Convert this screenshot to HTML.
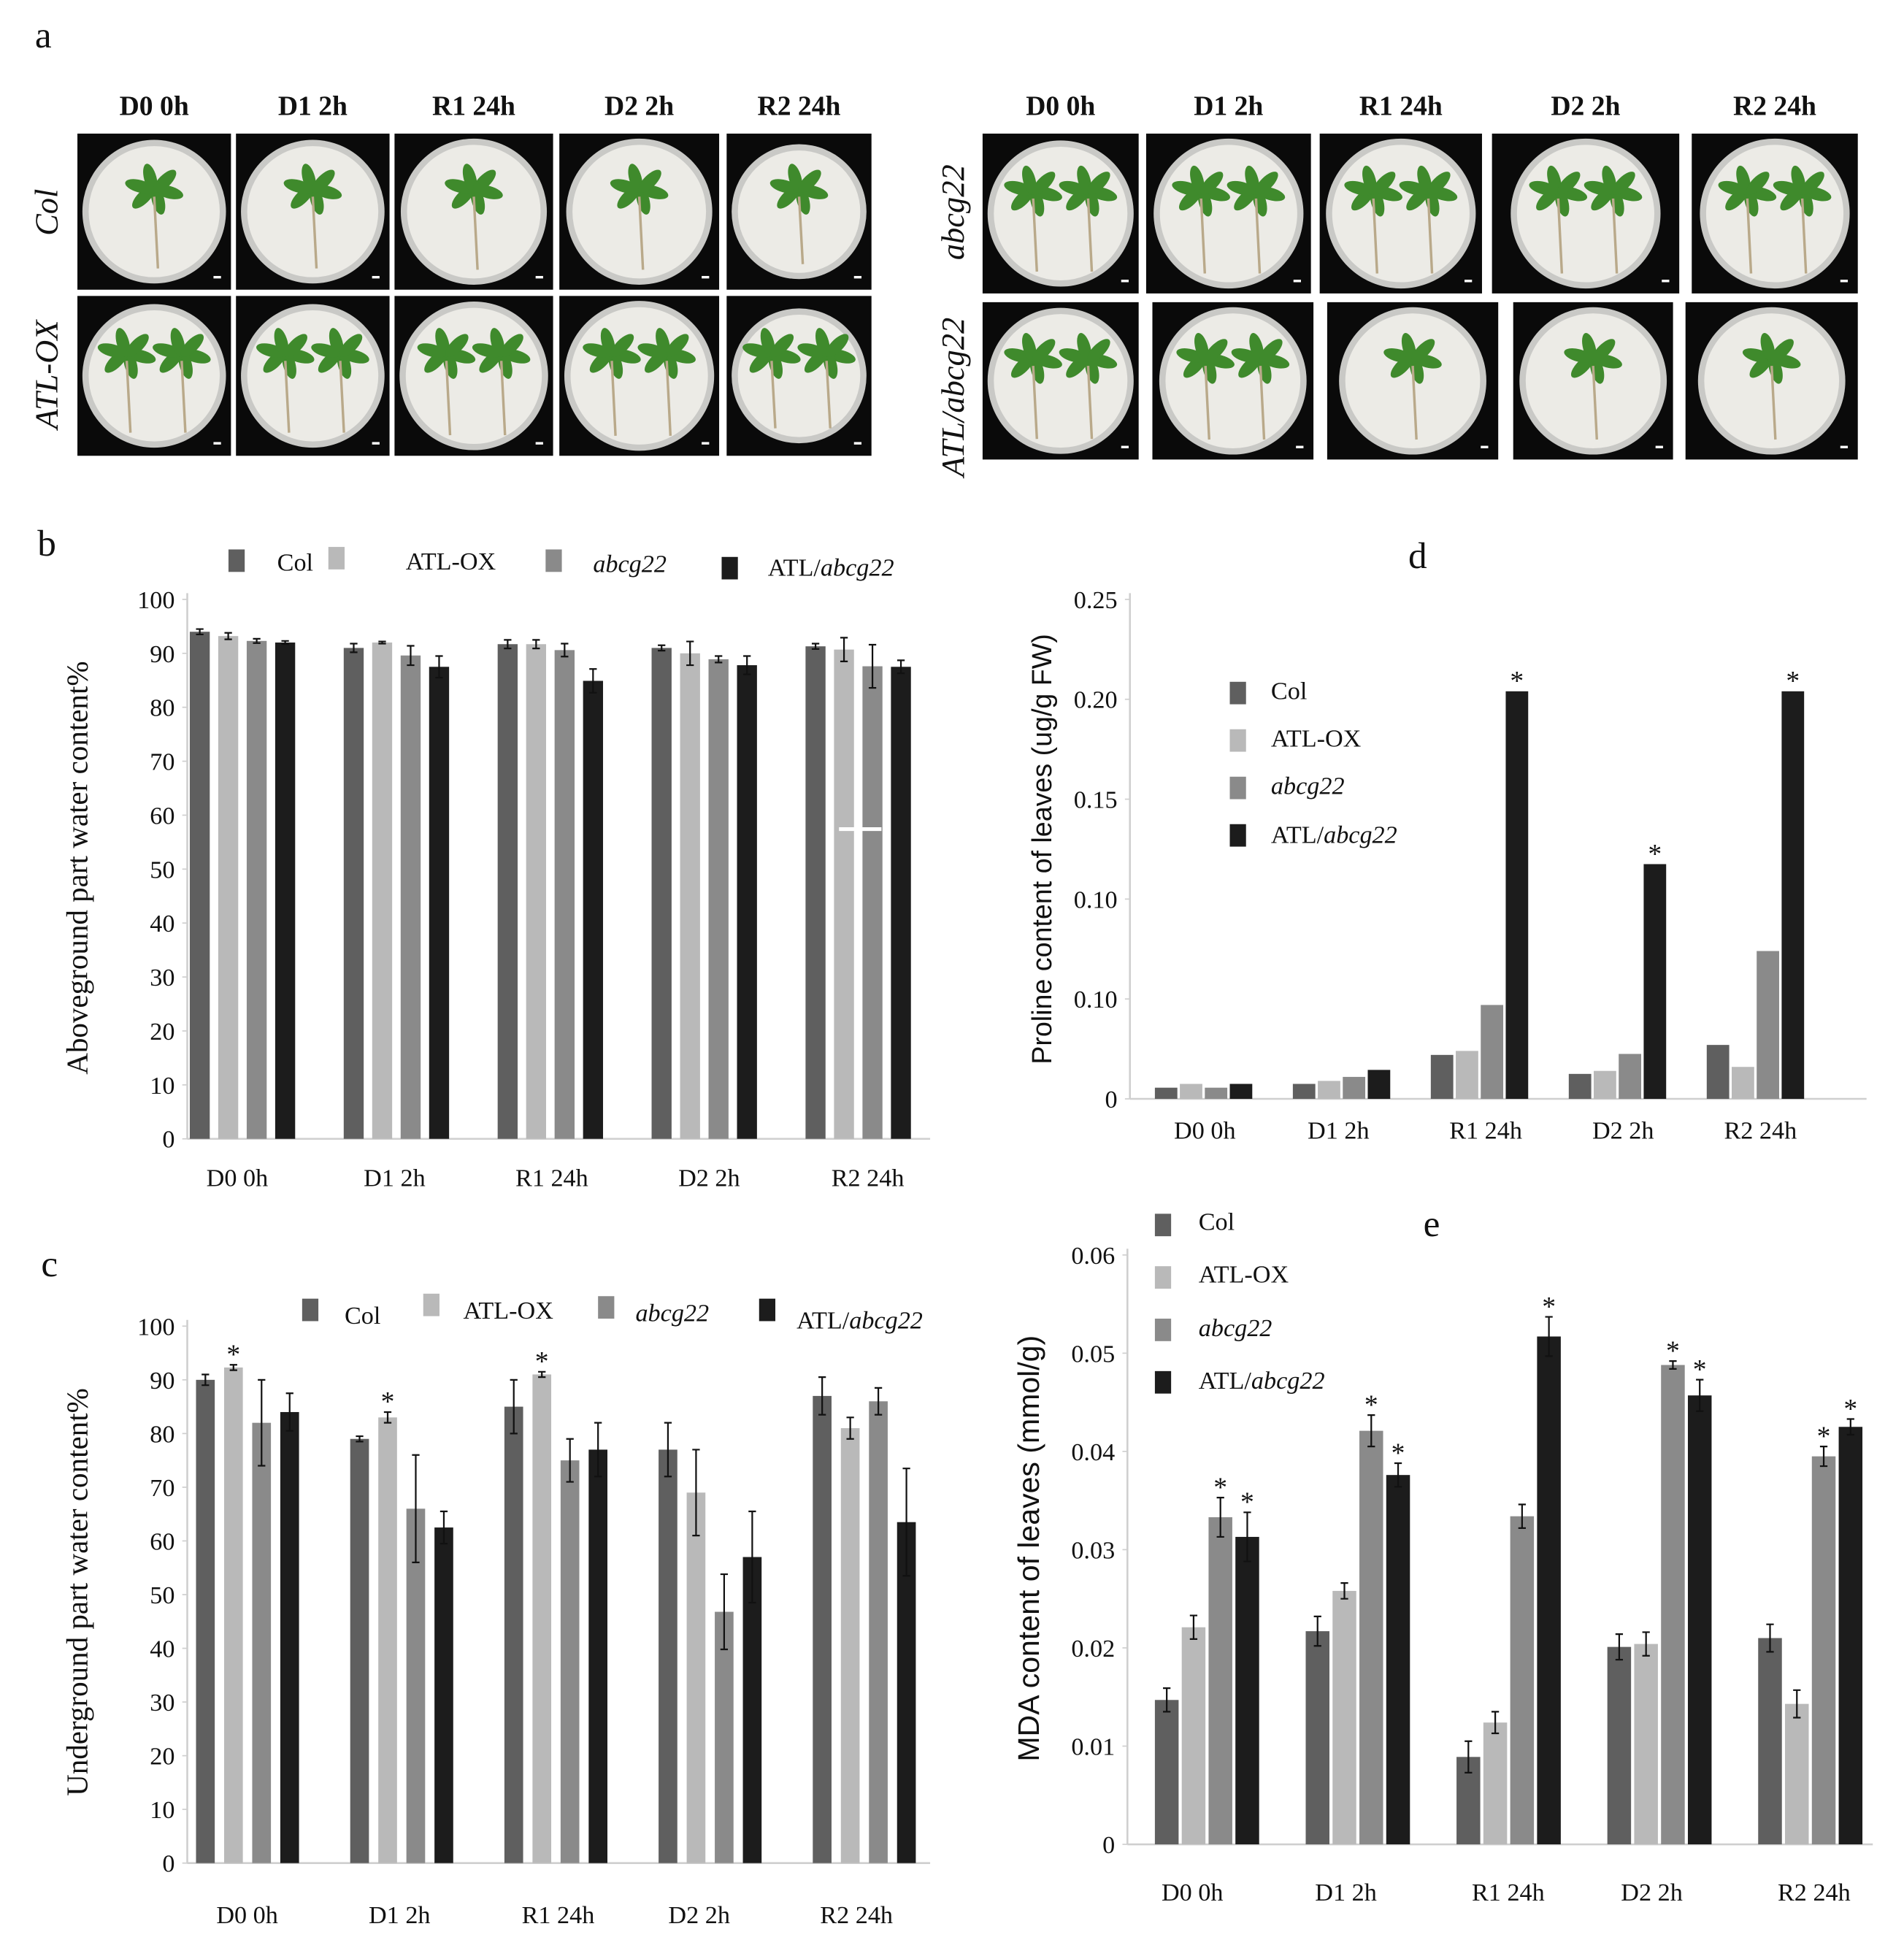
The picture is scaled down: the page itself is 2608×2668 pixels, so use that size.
<!DOCTYPE html>
<html><head><meta charset="utf-8"><style>
html,body{margin:0;padding:0;background:#fff}
svg{display:block}
text{font-family:"Liberation Serif",serif;fill:#111}
.sans{font-family:"Liberation Sans",sans-serif}
</style></head><body>
<svg id="fig" width="2608" height="2668" viewBox="0 0 1525 1560" preserveAspectRatio="none" xmlns="http://www.w3.org/2000/svg">
<text x="28" y="38" font-size="30">a</text>
<g id="photos"></g>
<g id="charts"></g>
</svg>
<script>
const NS="http://www.w3.org/2000/svg";
const svg=document.getElementById('fig');
const charts=document.getElementById('charts');
function mk(tag,attrs,parent){const e=document.createElementNS(NS,tag);for(const k in attrs)e.setAttribute(k,attrs[k]);(parent||charts).appendChild(e);return e;}

// ---------- data ----------
const categories=["D0 0h","D1 2h","R1 24h","D2 2h","R2 24h"];
const seriesNames=["Col","ATL-OX","abcg22","ATL/abcg22"];
const seriesColors=["#5f5f5f","#b9b9b9","#8a8a8a","#1c1c1c"];

const bCol=[94,91,91.7,91,91.3];
const bATL=[93.2,92,91.7,90,90.7];
const bAbcg=[92.3,89.6,90.6,88.9,87.6];
const bAtlAbcg=[92,87.5,84.9,87.8,87.5];
const bErrCol=[0.5,0.8,0.8,0.5,0.5];
const bErrATL=[0.6,0.2,0.8,2.2,2.2];
const bErrAbcg=[0.4,1.8,1.2,0.6,4];
const bErrAtlAbcg=[0.3,2,2.2,1.7,1.2];
const bTicks=[0,10,20,30,40,50,60,70,80,90,100];

const cCol=[90,79,85,77,87];
const cATL=[92.3,83,91,69,81];
const cAbcg=[82,66,75,46.8,86];
const cAtlAbcg=[84,62.5,77,57,63.5];
const cErrCol=[1,0.5,5,5,3.5];
const cErrATL=[0.5,1,0.5,8,2];
const cErrAbcg=[8,10,4,7,2.5];
const cErrAtlAbcg=[3.5,3,5,8.5,10];
const cTicks=[0,10,20,30,40,50,60,70,80,90,100];

const dCol=[0.0056,0.0075,0.022,0.0125,0.027];
const dATL=[0.0075,0.009,0.024,0.014,0.016];
const dAbcg=[0.0056,0.011,0.047,0.0225,0.074];
const dAtlAbcg=[0.0075,0.0145,0.204,0.1175,0.204];
const dTickVals=[0,0.05,0.10,0.15,0.20,0.25];
const dTickLabels=["0","0.10","0.10","0.15","0.20","0.25"];

const eCol=[0.0147,0.0217,0.0089,0.0201,0.021];
const eATL=[0.0221,0.0258,0.0124,0.0204,0.0143];
const eAbcg=[0.0333,0.0421,0.0334,0.0488,0.0395];
const eAtlAbcg=[0.0313,0.0376,0.0517,0.0457,0.0425];
const eErrCol=[0.0012,0.0015,0.0016,0.0013,0.0014];
const eErrATL=[0.0012,0.0008,0.0011,0.0012,0.0014];
const eErrAbcg=[0.002,0.0016,0.0012,0.0004,0.001];
const eErrAtlAbcg=[0.0025,0.0012,0.002,0.0016,0.0008];
const eTicks=[0,0.01,0.02,0.03,0.04,0.05,0.06];

// ---------- photos ----------
const photos=document.getElementById('photos');
const heads=["D0 0h","D1 2h","R1 24h","D2 2h","R2 24h"];
const leftCols=[[62,185],[189,312],[316,443],[448,576],[582,698]];
const rightCols1=[[787,912],[918,1050],[1057,1187],[1195,1345],[1355,1488]];
const rightCols2=[[787,912],[923,1052],[1063,1200],[1212,1340],[1350,1488]];
function plate(x0,x1,y0,y1,n,name){
  const g=mk('g',{},photos);
  
  
  mk('rect',{x:x0,y:y0,width:x1-x0,height:y1-y0,fill:'#0a0a0a'},g);
  const cx=(x0+x1)/2,cy=(y0+y1)/2,r=Math.min(x1-x0,y1-y0)/2-4;
  mk('circle',{cx:cx,cy:cy,r:r,fill:'#c9c9c6'},g);
  mk('circle',{cx:cx,cy:cy,r:r-5,fill:'#ecebe6'},g);
  for(let p=0;p<n;p++){
    const px=n==1?cx:cx-22+p*44, py=cy-18;
    for(let k=0;k<6;k++){
      const a=k*60+15;
      mk('ellipse',{cx:px+Math.cos(a*Math.PI/180)*12,cy:py+Math.sin(a*Math.PI/180)*9,rx:12,ry:5,fill:'#3f8a2c',transform:`rotate(${a} ${px+Math.cos(a*Math.PI/180)*12} ${py+Math.sin(a*Math.PI/180)*9})`},g);
    }
    mk('line',{x1:px,y1:py+6,x2:px+3,y2:cy+r-12,stroke:'#b9a98a','stroke-width':2},g);
  }
  mk('line',{x1:x1-14,y1:y1-10,x2:x1-8,y2:y1-10,stroke:'#fff','stroke-width':2},g);
}
heads.forEach((h,i)=>{
  const t=mk('text',{x:(leftCols[i][0]+leftCols[i][1])/2,y:92,'font-size':22,'font-weight':'bold','text-anchor':'middle'},photos);t.textContent=h;
  
  
  const t2=mk('text',{x:(rightCols1[i][0]+rightCols1[i][1])/2,y:92,'font-size':22,'font-weight':'bold','text-anchor':'middle'},photos);t2.textContent=h;
  
  
  plate(leftCols[i][0],leftCols[i][1],107,232,1,'photo-col');
  plate(leftCols[i][0],leftCols[i][1],237,365,2,'photo-atl-ox');
  plate(rightCols1[i][0],rightCols1[i][1],107,235,2,'photo-abcg22');
  plate(rightCols2[i][0],rightCols2[i][1],242,368,i>=2?1:2,'photo-atl-abcg22');
});
function rowLabel(x,y,txt,name){
  const t=mk('text',{x:x,y:y,'font-size':26,'font-style':'italic','text-anchor':'middle',transform:`rotate(-90 ${x} ${y})`},photos);
  t.textContent=txt;
  
  
}
rowLabel(46,170,"Col","row-label-col");
rowLabel(46,300,"ATL-OX","row-label-atl-ox");
rowLabel(772,170,"abcg22","row-label-abcg22");
rowLabel(772,318,"ATL/abcg22","row-label-atl-abcg22");

// ---------- chart helper ----------
function chart(o){
  const g=mk('g',{});
  
  
  const yS=v=>o.y0-(v-o.vmin)/(o.vmax-o.vmin)*(o.y0-o.ytop);
  mk('line',{x1:o.ax,y1:o.ytop-5,x2:o.ax,y2:o.y0,stroke:'#cfcfcf','stroke-width':1.5},g);
  mk('line',{x1:o.ax,y1:o.y0,x2:o.axEnd,y2:o.y0,stroke:'#cfcfcf','stroke-width':1.5},g);
  o.ticks.forEach((v,i)=>{
    const y=yS(v);
    const t=mk('text',{x:o.ax-10,y:y+7,'font-size':o.tickFs||20,'text-anchor':'end'},g);
    t.textContent=o.tickLabels?o.tickLabels[i]:String(v);
    
    
    mk('line',{x1:o.ax-4,y1:y,x2:o.ax,y2:y,stroke:'#cfcfcf'},g);
  });
  const series=o.series;
  categories.forEach((c,ci)=>{
    const gx=o.gStart+ci*o.gStep;
    series.forEach((s,si)=>{
      const x=gx+si*o.bStep, v=s[ci], y=yS(v);
      const r=mk('rect',{x:x,y:y,width:o.bw,height:o.y0-y,fill:seriesColors[si]},g);
      
      
      let top=y;
      if(o.errs){
        const e=o.errs[si][ci], cx=x+o.bw/2, y1=yS(v+e), y2=yS(v-e);
        const eb=mk('path',{d:`M${cx},${y1}V${y2}M${cx-3},${y1}H${cx+3}M${cx-3},${y2}H${cx+3}`,stroke:'#111','stroke-width':1.3,fill:'none'},g);
        
        
        top=y1;
      }
      if(o.stars&&o.stars[si][ci]){
        const st=mk('text',{x:x+o.bw/2,y:top-1,'font-size':22,'text-anchor':'middle'},g);
        st.textContent='*';
        
        
      }
    });
    const lt=mk('text',{x:o.labelX[ci],y:o.labelY,'font-size':20,'text-anchor':'middle'},g);
    lt.textContent=c;
    
    
  });
  const tt=mk('text',{x:o.titleX,y:o.titleY,'font-size':o.titleFs||22,'text-anchor':'middle',class:o.titleSans?'sans':'',transform:`rotate(-90 ${o.titleX} ${o.titleY})`},g);
  tt.textContent=o.title;
  
  
  o.legend.forEach((L,i)=>{
    const lg=mk('g',{},g);
    
    
    mk('rect',{x:L[0],y:L[1],width:13,height:18,fill:seriesColors[i]},lg);
    const t=mk('text',{x:L[2],y:L[3],'font-size':20},lg);
    if(i==0)t.textContent='Col';
    else if(i==1)t.textContent='ATL-OX';
    else if(i==2){const s=mk('tspan',{'font-style':'italic'},t);s.textContent='abcg22';}
    else{const a=mk('tspan',{},t);a.textContent='ATL/';const s=mk('tspan',{'font-style':'italic'},t);s.textContent='abcg22';}
  });
  const pl=mk('text',{x:o.letter[0],y:o.letter[1],'font-size':30},g);
  pl.textContent=o.letter[2];
  
  
  return g;
}

chart({name:'chart-b',ax:150,axEnd:745,y0:912,ytop:480,vmin:0,vmax:100,ticks:bTicks,
  series:[bCol,bATL,bAbcg,bAtlAbcg],errs:[bErrCol,bErrATL,bErrAbcg,bErrAtlAbcg],
  gStart:152,gStep:123.3,bStep:22.8,bw:16,labelX:[190,316,442,568,695],labelY:950,
  title:'Aboveground part water content%',titleX:70,titleY:695,titleFs:24,
  legend:[[183,440,222,457],[263,438,325,456],[437,440,475,458],[578,446,615,461]],letter:[30,445,'b']});
const wl=mk('line',{x1:672,y1:664,x2:706,y2:664,stroke:'#fff','stroke-width':3});



chart({name:'chart-c',ax:150,axEnd:745,y0:1492,ytop:1062,vmin:0,vmax:100,ticks:cTicks,
  series:[cCol,cATL,cAbcg,cAtlAbcg],errs:[cErrCol,cErrATL,cErrAbcg,cErrAtlAbcg],
  stars:[[0,0,0,0,0],[1,1,1,0,0],[0,0,0,0,0],[0,0,0,0,0]],
  gStart:157,gStep:123.5,bStep:22.5,bw:15,labelX:[198,320,447,560,686],labelY:1540,
  title:'Underground part water content%',titleX:70,titleY:1275,titleFs:24,
  legend:[[242,1040,276,1060],[339,1036,371,1056],[479,1038,509,1058],[608,1040,638,1064]],letter:[33,1022,'c']});

chart({name:'chart-d',ax:905,axEnd:1495,y0:880,ytop:480,vmin:0,vmax:0.25,ticks:dTickVals,tickLabels:dTickLabels,
  series:[dCol,dATL,dAbcg,dAtlAbcg],
  stars:[[0,0,0,0,0],[0,0,0,0,0],[0,0,0,0,0],[0,0,1,1,1]],
  gStart:925,gStep:110.5,bStep:20,bw:18,labelX:[965,1072,1190,1300,1410],labelY:912,
  title:'Proline content of leaves (ug/g FW)',titleX:842,titleY:680,titleFs:22,titleSans:true,
  legend:[[985,546,1018,560],[985,584,1018,598],[985,622,1018,636],[985,660,1018,675]],letter:[1128,455,'d']});

chart({name:'chart-e',ax:903,axEnd:1500,y0:1477,ytop:1005,vmin:0,vmax:0.06,ticks:eTicks,
  series:[eCol,eATL,eAbcg,eAtlAbcg],errs:[eErrCol,eErrATL,eErrAbcg,eErrAtlAbcg],
  stars:[[0,0,0,0,0],[0,0,0,0,0],[1,1,0,1,1],[1,1,1,1,1]],
  gStart:925,gStep:120.8,bStep:21.5,bw:19,labelX:[955,1078,1208,1323,1453],labelY:1522,
  title:'MDA content of leaves (mmol/g)',titleX:832,titleY:1240,titleFs:24,titleSans:true,
  legend:[[925,972,960,985],[925,1014,960,1027],[925,1056,960,1070],[925,1098,960,1112]],letter:[1140,990,'e']});
</script>
</body></html>
